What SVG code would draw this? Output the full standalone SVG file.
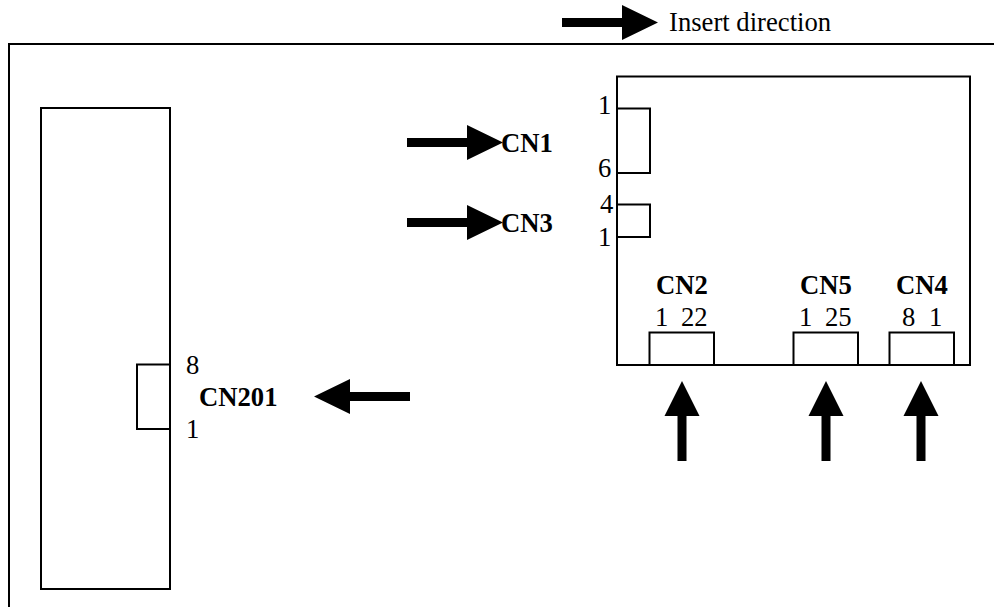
<svg xmlns="http://www.w3.org/2000/svg" width="994" height="607" viewBox="0 0 994 607">
<style>
.b{fill:#fff;stroke:#000;stroke-width:2}
.l{fill:none;stroke:#000;stroke-width:2}
.a{fill:#000;stroke:none}
text{font-family:"Liberation Serif","Times New Roman",serif;font-size:26.67px;fill:#000}
.h{font-weight:bold}
</style>
<defs>
<path id="r" class="a" d="M0-4.500H60V-17.500L96 0 60 17.500V4.500H0Z"/>
<path id="u" class="a" d="M-4.500 0V-45H-17.500L0-80 17.500-45H4.500V0Z"/>
</defs>
<rect width="994" height="607" fill="#fff"/>
<g id="frame"><path class="l" d="M994 44H9V607"/></g>
<g id="board-left">
<rect class="b" x="41" y="108" width="129" height="481"/>
</g>
<g id="board-right">
<rect class="b" x="617" y="76.500" width="353" height="288.500"/>
</g>
<g id="cn201">
<rect class="b" x="137" y="364.500" width="33" height="64.500"/>
<text x="186" y="374">8</text><text x="186" y="438">1</text>
<text class="h" x="199" y="406">CN201</text>
</g>
<g id="cn1">
<rect class="b" x="617" y="108.500" width="33" height="64.500"/>
<text x="598" y="114">1</text><text x="598" y="177">6</text>
<text class="h" x="501" y="152">CN1</text>
</g>
<g id="cn3">
<rect class="b" x="617" y="204.500" width="33" height="32.500"/>
<text x="600" y="213">4</text><text x="598" y="246">1</text>
<text class="h" x="501" y="232">CN3</text>
</g>
<g id="cn2">
<rect class="b" x="649.500" y="332.500" width="64.500" height="32.500"/>
<text class="h" x="656" y="294">CN2</text>
<text x="655" y="326">1</text><text x="681" y="326">22</text>
</g>
<g id="cn5">
<rect class="b" x="793.500" y="332.500" width="64.500" height="32.500"/>
<text class="h" x="800" y="294">CN5</text>
<text x="799" y="326">1</text><text x="825" y="326">25</text>
</g>
<g id="cn4">
<rect class="b" x="889.500" y="332.500" width="64.500" height="32.500"/>
<text class="h" x="896" y="294">CN4</text>
<text x="902" y="326">8</text><text x="929" y="326">1</text>
</g>
<g id="connectors">
<use href="#r" transform="translate(562 22.500)"/>
<use href="#r" transform="translate(407 142.500)"/>
<use href="#r" transform="translate(407 222.500)"/>
<use href="#r" transform="translate(410 396.500) rotate(180)"/>
<use href="#u" transform="translate(682 461)"/>
<use href="#u" transform="translate(826 461)"/>
<use href="#u" transform="translate(921 461)"/>
</g>
<g id="legend"><text x="669" y="31">Insert direction</text></g>
</svg>
